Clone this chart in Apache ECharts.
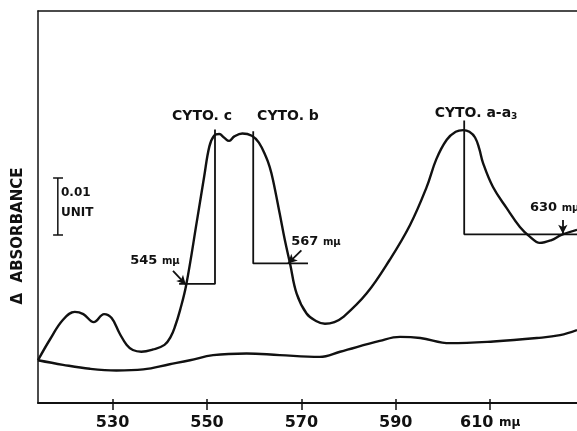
<!DOCTYPE html>
<html>
<head>
<meta charset="utf-8">
<script src="https://cdn.jsdelivr.net/npm/echarts@6/dist/echarts.min.js"></script>
<style>html,body{margin:0;padding:0;background:#fff}#c{width:577px;height:431px}</style>
</head>
<body>
<div id="c"></div>
<script>
// Wavelength (mμ) and Δ absorbance (units of 0.001)
const upperLambda = [514.2, 516.7, 519.5, 522.0, 523.8, 526.0, 528.2, 529.8, 531.5, 533.0, 534.3, 536.1, 538.6, 541.0, 542.3, 543.3, 544.3, 545.6, 547.9, 549.4, 550.5, 551.5, 552.6, 553.6, 554.7, 555.8, 557.5, 559.5, 561.0, 562.5, 563.3, 564.0, 565.4, 566.5, 567.6, 569.0, 571.1, 573.1, 575.0, 577.0, 578.9, 583.8, 588.7, 593.0, 596.5, 598.6, 600.8, 602.7, 604.3, 605.6, 606.8, 607.7, 608.5, 610.6, 613.5, 616.3, 618.4, 620.5, 623.0, 625.1, 628.4];
const upperValue = [7.5, 11.1, 14.6, 16.0, 15.6, 14.2, 15.6, 14.9, 12.2, 10.2, 9.3, 9.0, 9.4, 10.2, 11.6, 13.6, 16.3, 20.7, 32.1, 39.7, 45.0, 46.9, 47.2, 46.6, 46.0, 46.8, 47.3, 46.9, 45.7, 43.2, 41.4, 39.1, 33.3, 28.6, 24.5, 19.2, 15.7, 14.4, 13.9, 14.2, 15.1, 19.2, 25.1, 31.2, 37.8, 42.8, 46.2, 47.6, 47.9, 47.6, 46.6, 44.6, 42.1, 37.9, 34.2, 30.9, 29.2, 28.1, 28.6, 29.5, 30.4];
const lowerLambda = [514.2, 519.5, 525.2, 530.8, 536.5, 542.1, 546.4, 551.3, 558.4, 565.4, 573.9, 578.2, 586.6, 590.9, 595.2, 601.5, 610.7, 619.9, 624.8, 628.4];
const lowerValue = [7.5, 6.7, 6.0, 5.7, 5.9, 6.8, 7.5, 8.4, 8.7, 8.4, 8.1, 9.0, 10.9, 11.6, 11.4, 10.5, 10.8, 11.4, 11.9, 12.8];

const tickValues = [530, 550, 570, 590, 610];
const tickLabels = ['530', '550', '570', '590', '610 {u|mμ}'];

// annotation lines (λ, value)
const cytoC = [[544.1, 20.9], [551.7, 20.9], [551.7, 48.0]];
const cytoB = [[571.4, 24.5], [559.8, 24.5], [559.8, 47.7]];
const cytoA = [[628.4, 29.6], [604.5, 29.6], [604.5, 49.6]];
const scaleBar = [[518.4, 39.5], [518.4, 29.5]];
const scaleCaps = [[[517.4, 39.5], [519.5, 39.5]], [[517.4, 29.5], [519.5, 29.5]]];
const arrows = [
  [[542.8, 23.2], [545.5, 20.8]],
  [[570.0, 26.8], [567.2, 24.5]],
  [[625.4, 32.1], [625.4, 29.7]]
];

const X_MIN = 514.2, X_MAX = 628.4, Y_MAX = 68.8;
const INK = '#111';
const FONT = 'DejaVu Sans';

function zip(a, b) { return a.map((x, i) => [x, b[i]]); }

const chart = echarts.init(document.getElementById('c'), null, {renderer: 'canvas'});

function lineSeries(data, width) {
  return {type: 'line', data: data, symbol: 'none', silent: true,
    lineStyle: {color: INK, width: width}, z: 3, animation: false};
}

const txt = (t, x, y, opts, rot) => ({
  type: 'text', x: x, y: y, rotation: rot || 0,
  style: Object.assign({text: t, fill: INK, font: 'bold 14px "' + FONT + '"', align: 'center', verticalAlign: 'middle'}, opts || {})
});
const unitText = (num, x, y, align) => ({
  type: 'text', x: x, y: y, style: {
    rich: {b: {font: 'bold 13px "' + FONT + '"', fill: INK}, u: {font: 'bold 10px "' + FONT + '"', fill: INK}},
    text: '{b|' + num + ' }{u|mμ}', align: align || 'center', verticalAlign: 'middle'}
});

chart.setOption({
  animation: false,
  backgroundColor: '#fff',
  grid: {left: 38, right: 0, top: 11, bottom: 28, containLabel: false},
  xAxis: [{
    type: 'value', min: X_MIN, max: X_MAX, position: 'bottom',
    axisLine: {show: true, lineStyle: {color: INK, width: 2}},
    axisTick: {show: true, length: 7, customValues: tickValues, lineStyle: {color: INK, width: 1.5}},
    axisLabel: {show: true, customValues: tickValues, margin: 12, color: INK,
      fontFamily: FONT, fontWeight: 'bold', fontSize: 16,
      formatter: v => tickLabels[tickValues.indexOf(v)] || '',
      rich: {u: {fontFamily: FONT, fontWeight: 'bold', fontSize: 12, color: INK}}},
    splitLine: {show: false}
  }, {
    type: 'value', min: X_MIN, max: X_MAX, position: 'bottom',
    axisLine: {show: false},
    axisTick: {show: true, inside: true, length: 4, customValues: tickValues, lineStyle: {color: INK, width: 1.5}},
    axisLabel: {show: false}, splitLine: {show: false}
  }, {
    type: 'value', min: X_MIN, max: X_MAX, position: 'top',
    axisLine: {show: true, lineStyle: {color: INK, width: 1.5}},
    axisTick: {show: false}, axisLabel: {show: false}, splitLine: {show: false}
  }],
  yAxis: {
    type: 'value', min: 0, max: Y_MAX,
    axisLine: {show: true, lineStyle: {color: INK, width: 1.5}},
    axisTick: {show: false}, axisLabel: {show: false}, splitLine: {show: false}
  },
  series: [
    Object.assign(lineSeries(zip(upperLambda, upperValue), 2.4), {smooth: 0.4}),
    Object.assign(lineSeries(zip(lowerLambda, lowerValue), 2.4), {smooth: 0.4}),
    lineSeries(cytoC, 1.8),
    lineSeries(cytoB, 1.8),
    lineSeries(cytoA, 1.8),
    lineSeries(scaleBar, 1.5),
    lineSeries(scaleCaps[0], 1.5),
    lineSeries(scaleCaps[1], 1.5),
    {type: 'line', data: [], silent: true, animation: false,
      markLine: {silent: true, symbol: ['none', 'arrow'], symbolSize: [7, 9], label: {show: false},
        lineStyle: {color: INK, width: 1.8, type: 'solid'},
        data: arrows.map(a => [{coord: a[0]}, {coord: a[1]}])}}
  ],
  graphic: [
    txt('Δ  ABSORBANCE', 18, 236, {font: 'bold 15px "' + FONT + '"'}, Math.PI / 2),
    txt('CYTO. c', 202, 116),
    txt('CYTO. b', 288, 116),
    {type: 'text', x: 476, y: 113, style: {
      rich: {b: {font: 'bold 14px "' + FONT + '"', fill: INK}, s: {font: 'bold 9px "' + FONT + '"', fill: INK, padding: [8, 0, 0, 0]}},
      text: '{b|CYTO. a-a}{s|3}', align: 'center', verticalAlign: 'middle'}},
    unitText('545', 155, 261),
    unitText('567', 316, 242),
    unitText('630', 530, 208, 'left'),
    txt('0.01', 61, 193, {font: 'bold 12px "' + FONT + '"', align: 'left'}),
    txt('UNIT', 61, 213, {font: 'bold 12px "' + FONT + '"', align: 'left'})
  ]
});
</script>
</body>
</html>
